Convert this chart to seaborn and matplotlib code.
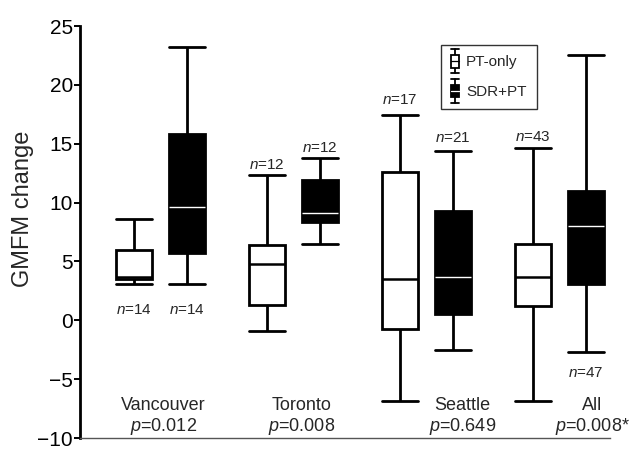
import numpy as np
import pandas as pd
import matplotlib
matplotlib.use("Agg")
import matplotlib.pyplot as plt
import seaborn as sns
from matplotlib.legend_handler import HandlerBase
from matplotlib.lines import Line2D
from matplotlib.patches import Rectangle

# ---------------- data ----------------
sites = ["Vancouver", "Toronto", "Seattle", "All"]
groups = ["PT-only", "SDR+PT"]
# five-number summaries: lower whisker, Q1, median, Q3, upper whisker
pt_low = [3.1, -0.95, -6.85, -6.85]
pt_q1 = [3.5, 1.3, -0.75, 1.2]
pt_med = [3.7, 4.8, 3.5, 3.7]
pt_q3 = [6.0, 6.4, 12.6, 6.5]
pt_high = [8.6, 12.3, 17.4, 14.65]
sdr_low = [3.1, 6.45, -2.55, -2.7]
sdr_q1 = [5.7, 8.35, 0.5, 3.05]
sdr_med = [9.6, 9.1, 3.7, 8.0]
sdr_q3 = [15.8, 11.9, 9.3, 11.0]
sdr_high = [23.2, 13.8, 14.4, 22.5]
pt_n = [14, 12, 17, 43]
sdr_n = [14, 12, 21, 47]
p_values = ["0.012", "0.008", "0.649", "0.008*"]
y_ticks = [-10, -5, 0, 5, 10, 15, 20, 25]

# -----------------------------------------------------------------
rows = []
for i, s in enumerate(sites):
    for v in (pt_low[i], pt_q1[i], pt_med[i], pt_q3[i], pt_high[i]):
        rows.append((s, "PT-only", v))
    for v in (sdr_low[i], sdr_q1[i], sdr_med[i], sdr_q3[i], sdr_high[i]):
        rows.append((s, "SDR+PT", v))
df = pd.DataFrame(rows, columns=["site", "group", "value"])

sns.set_style("white")
plt.rcParams["font.family"] = ["Liberation Sans", "DejaVu Sans"]
plt.rcParams["mathtext.fontset"] = "custom"
plt.rcParams["mathtext.rm"] = "Liberation Sans"
plt.rcParams["mathtext.it"] = "Liberation Sans:italic"

fig = plt.figure(figsize=(6.3, 4.51), dpi=100)
ax = fig.add_axes([80 / 630, 13 / 451, 530 / 630, 412 / 451])

sns.boxplot(data=df, x="site", y="value", hue="group", order=sites,
            hue_order=groups, palette={"PT-only": "white", "SDR+PT": "black"},
            saturation=1, linecolor="black", linewidth=2.0, width=0.8,
            gap=0.33, whis=(0, 100), fliersize=0, legend=False, ax=ax)

# style medians / caps per hue level
for k, cont in enumerate(ax.containers):
    for med in cont.medians:
        if k == 1:
            med.set_color("white")
            med.set_linewidth(1.0)
        else:
            med.set_linewidth(1.8)
    for cap in cont.caps:
        xd = np.asarray(cap.get_xdata(), dtype=float)
        c = xd.mean()
        cap.set_xdata(c + (xd - c) * 2.0)

ax.set_xlim(-0.607, 3.38)
ax.set_ylim(-10, 25)
ax.set_yticks(y_ticks)
ax.tick_params(axis="y", labelsize=15, length=4, width=1.4, direction="out",
               left=True, colors="black", pad=1)
ax.tick_params(axis="x", bottom=False, labelbottom=False)
ax.set_xlabel("")
ax.set_ylabel("GMFM change", fontsize=17)
ax.yaxis.set_label_coords(-0.087, 0.556)
for sp in ("top", "right"):
    ax.spines[sp].set_visible(False)
ax.spines["left"].set_linewidth(2.0)
ax.spines["left"].set_color("black")
ax.spines["bottom"].set_linewidth(1.0)
ax.spines["bottom"].set_color("#555555")

# site names and p values (horizontal shift of each caption, in category units)
label_shift = [0.02, 0.06, 0.27, 0.245]
for i, s in enumerate(sites):
    ax.text(i + label_shift[i], -7.2, s, ha="center", va="center",
            fontsize=13)
    ax.text(i + label_shift[i], -9.0, "$p$=" + p_values[i], ha="center",
            va="center", fontsize=13)

# n labels
off = 0.2
n_pos_pt = [0.9, 13.2, 18.7, 15.6]
n_pos_sdr = [0.9, 14.6, 15.5, -4.5]
for i in range(len(sites)):
    ax.text(i - off, n_pos_pt[i], "$n$=%d" % pt_n[i], ha="center",
            va="center", fontsize=11)
    ax.text(i + off, n_pos_sdr[i], "$n$=%d" % sdr_n[i], ha="center",
            va="center", fontsize=11)


class BoxHandler(HandlerBase):
    def __init__(self, fill):
        super().__init__()
        self.fill = fill

    def create_artists(self, legend, orig_handle, xdescent, ydescent, width,
                       height, fontsize, trans):
        cx = -xdescent + width / 2
        y0 = -ydescent
        bw = width * 0.9
        ext = height * 0.45
        arts = []
        arts.append(Line2D([cx, cx], [y0 - ext, y0 + height + ext],
                           color="black", lw=1.3, transform=trans))
        for yy in (y0 - ext, y0 + height + ext):
            arts.append(Line2D([cx - bw / 2, cx + bw / 2], [yy, yy],
                               color="black", lw=1.3, transform=trans))
        arts.append(Rectangle((cx - bw / 2, y0), bw, height,
                              facecolor=self.fill, edgecolor="black", lw=1.3,
                              transform=trans))
        arts.append(Line2D([cx - bw / 2, cx + bw / 2],
                           [y0 + height / 2, y0 + height / 2],
                           color="white" if self.fill == "black" else "black",
                           lw=0.9, transform=trans))
        return arts


h1 = Rectangle((0, 0), 1, 1)
h2 = Rectangle((0, 0), 1, 1)
leg = ax.legend([h1, h2], groups, loc="upper left",
                bbox_to_anchor=(0.681, 0.954), borderaxespad=0,
                fontsize=11, frameon=True, fancybox=False,
                handlelength=0.55, handleheight=0.9, handletextpad=0.45,
                labelspacing=1.0, borderpad=0.65,
                handler_map={h1: BoxHandler("white"), h2: BoxHandler("black")})
leg.get_frame().set_edgecolor("black")
leg.get_frame().set_linewidth(1.0)

fig.savefig("out.png", dpi=100)
